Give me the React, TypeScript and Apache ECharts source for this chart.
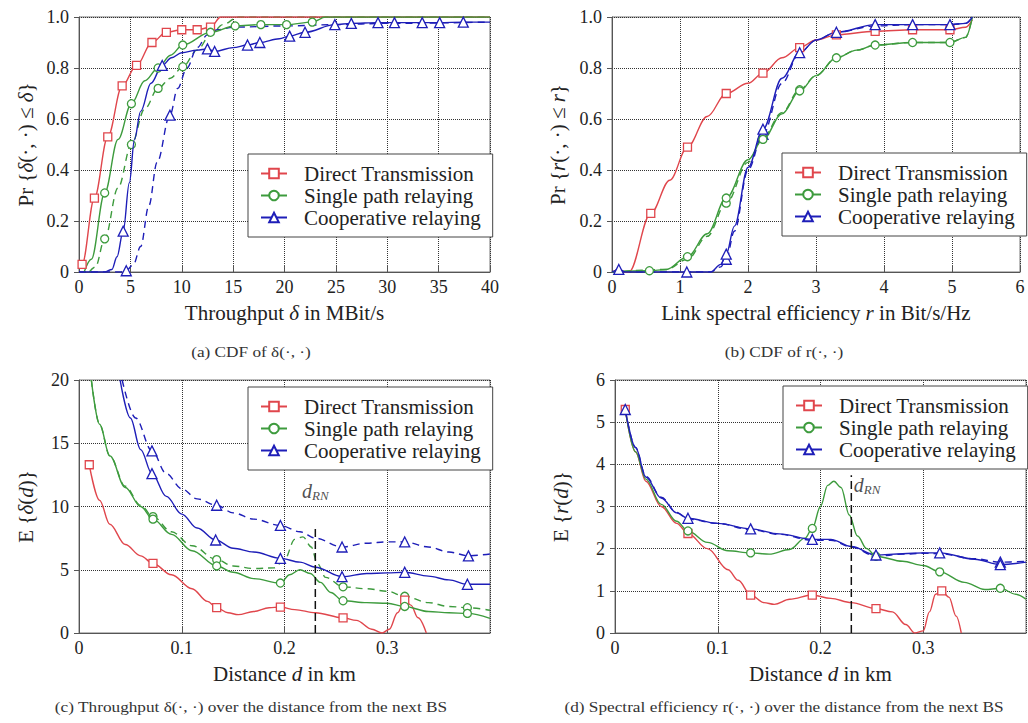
import React, { useEffect, useRef } from "react";
import * as echarts from "echarts";

const FONT = "Liberation Serif, serif";
const RED = "#e0464c";
const GREEN = "#3d9b3d";
const BLUE = "#1e1eb8";

const legendNames = ["Direct Transmission", "Single path relaying", "Cooperative relaying"];

// (a) CDF of throughput
const aRedSolid = [[0, 0.02], [0.3, 0.03], [1.5, 0.29], [2.8, 0.53], [4.2, 0.73], [5.6, 0.81], [7.1, 0.9], [8.5, 0.94], [10, 0.95], [11.5, 0.95], [12.8, 0.96], [13.8, 1.0], [40, 1.0]];
const aRedMarks = [0.3, 1.5, 2.8, 4.2, 5.6, 7.1, 8.5, 10, 11.5, 12.8];
const aGreenSolid = [[0.5, 0], [1.2, 0.05], [2.5, 0.31], [3.8, 0.52], [5.1, 0.66], [6.4, 0.75], [7.7, 0.8], [8.9, 0.85], [10.1, 0.89], [12.8, 0.94], [15.2, 0.965], [17.7, 0.97], [20.2, 0.97], [22.7, 0.98], [24, 1.0], [40, 1.0]];
const aGreenSolidMarks = [2.5, 5.1, 7.7, 10.1, 12.8, 15.2, 17.7, 20.2, 22.7];
const aGreenDashed = [[1, 0], [1.6, 0.02], [2.5, 0.13], [3.8, 0.33], [5.1, 0.5], [6.4, 0.64], [7.7, 0.72], [8.9, 0.76], [10.1, 0.805], [11.5, 0.87], [12.8, 0.93], [14, 0.97], [15.5, 1.0], [40, 1.0]];
const aGreenDashedMarks = [2.5, 5.1, 7.7, 10.1];
const aBlueSolid = [[0, 0], [2.5, 0], [3.2, 0.01], [3.7, 0.06], [4.3, 0.16], [4.9, 0.35], [5.4, 0.52], [6, 0.63], [7, 0.74], [8.1, 0.81], [9, 0.84], [10, 0.86], [11.5, 0.87], [12.5, 0.875], [13.2, 0.865], [15, 0.88], [16.4, 0.89], [17.6, 0.9], [19.5, 0.915], [20.5, 0.925], [22, 0.94], [24.9, 0.97], [26.5, 0.975], [29.1, 0.978], [30.7, 0.978], [33.4, 0.978], [35.1, 0.978], [37.4, 0.98], [40, 0.98]];
const aBlueSolidMarks = [4.3, 8.1, 12.5, 13.2, 16.4, 17.6, 20.5, 22, 24.9, 26.5, 29.1, 30.7, 33.4, 35.1, 37.4];
const aBlueDashed = [[0, 0], [4, 0], [4.6, 0.005], [5.3, 0.03], [6, 0.1], [6.8, 0.26], [7.6, 0.43], [8.85, 0.615], [9.6, 0.72], [10.5, 0.8], [11.5, 0.88], [12.5, 0.93], [13.5, 0.95], [15, 0.96], [20, 0.965], [25, 0.97], [30, 0.975], [40, 0.98]];
const aBlueDashedMarks = [4.6, 8.85];

// (b) CDF of spectral efficiency
const bRed = [[0, 0], [0.1, 0.01], [0.2, 0], [0.25, 0], [0.57, 0.23], [0.85, 0.36], [1.11, 0.49], [1.4, 0.61], [1.68, 0.7], [2.0, 0.74], [2.22, 0.78], [2.5, 0.84], [2.76, 0.88], [3.0, 0.91], [3.3, 0.93], [3.87, 0.944], [4.42, 0.95], [4.97, 0.95], [5.2, 0.96], [5.3, 0.99]];
const bRedMarks = [0.57, 1.11, 1.68, 2.22, 2.76, 3.3, 3.87, 4.42, 4.97];
const bGreenSolid = [[0, 0], [0.55, 0.005], [0.8, 0.01], [1.11, 0.06], [1.4, 0.15], [1.68, 0.29], [2.0, 0.44], [2.22, 0.52], [2.5, 0.62], [2.76, 0.71], [3.0, 0.77], [3.3, 0.84], [3.6, 0.87], [3.87, 0.89], [4.42, 0.9], [4.97, 0.9], [5.2, 0.92], [5.3, 1.0]];
const bGreenSolidMarks = [0.55, 1.11, 1.68, 2.22, 2.76, 3.3, 3.87, 4.42, 4.97];
const bGreenDashed = [[0, 0], [0.8, 0.01], [1.11, 0.05], [1.4, 0.14], [1.68, 0.27], [2.0, 0.43], [2.22, 0.53], [2.5, 0.625], [2.76, 0.715], [3.0, 0.77], [3.3, 0.84], [3.6, 0.87], [3.87, 0.89], [4.42, 0.9], [4.97, 0.9], [5.2, 0.92], [5.3, 1.0]];
const bGreenDashedMarks = [1.68, 2.76];
const bBlueSolid = [[0, 0], [0.1, 0.01], [0.2, 0], [1.1, 0], [1.45, 0], [1.6, 0.03], [1.68, 0.07], [1.8, 0.18], [2.0, 0.41], [2.22, 0.56], [2.5, 0.76], [2.76, 0.86], [3.0, 0.91], [3.3, 0.94], [3.87, 0.97], [4.42, 0.97], [4.97, 0.97], [5.2, 0.975], [5.3, 1.0]];
const bBlueSolidMarks = [0.1, 1.1, 1.68, 2.22, 2.76, 3.3, 3.87, 4.42, 4.97];
const bBlueDashed = [[0, 0], [1.45, 0], [1.6, 0.02], [1.68, 0.05], [1.8, 0.16], [2.0, 0.4], [2.22, 0.54], [2.5, 0.74], [2.76, 0.86], [3.0, 0.91], [3.3, 0.94], [3.87, 0.965], [4.42, 0.97], [4.97, 0.97], [5.2, 0.975], [5.3, 1.0]];
const bBlueDashedMarks = [1.68, 2.22];

// (c) throughput over distance
const cRed = [[0.01, 13.3], [0.02, 10.5], [0.03, 8.6], [0.045, 7.0], [0.06, 6.1], [0.072, 5.5], [0.09, 4.6], [0.11, 3.5], [0.125, 2.5], [0.134, 2.0], [0.145, 1.6], [0.155, 1.45], [0.17, 1.7], [0.185, 2.0], [0.196, 2.05], [0.21, 1.85], [0.23, 1.6], [0.257, 1.2], [0.27, 1.0], [0.285, 0.3], [0.295, 0.0], [0.302, 0.3], [0.31, 1.6], [0.317, 2.6], [0.323, 2.2], [0.33, 1.2], [0.338, 0]];
const cRedMarks = [0.01, 0.072, 0.134, 0.196, 0.257, 0.317];
const cGreenSolid = [[0.012, 20], [0.02, 16.5], [0.03, 14], [0.045, 11.5], [0.06, 10], [0.072, 9.0], [0.09, 7.8], [0.11, 6.5], [0.134, 5.3], [0.15, 4.8], [0.17, 4.3], [0.196, 3.95], [0.205, 4.6], [0.215, 5.0], [0.225, 4.7], [0.235, 4.0], [0.245, 3.2], [0.257, 2.55], [0.28, 2.4], [0.3, 2.35], [0.317, 2.1], [0.34, 1.7], [0.36, 1.6], [0.378, 1.55], [0.4, 1.15]];
const cGreenSolidMarks = [0.072, 0.134, 0.196, 0.257, 0.317, 0.378];
const cGreenDashed = [[0.012, 20], [0.02, 16.5], [0.03, 14], [0.045, 11.6], [0.06, 10.1], [0.072, 9.2], [0.09, 8.0], [0.11, 6.9], [0.134, 5.8], [0.15, 5.3], [0.17, 5.1], [0.19, 5.15], [0.2, 5.8], [0.21, 7.4], [0.218, 7.6], [0.226, 6.8], [0.232, 5.5], [0.24, 4.4], [0.257, 3.65], [0.28, 3.5], [0.3, 3.3], [0.317, 2.9], [0.34, 2.4], [0.36, 2.1], [0.378, 2.0], [0.4, 1.8]];
const cGreenDashedMarks = [0.072, 0.134, 0.257, 0.317, 0.378];
const cBlueSolid = [[0.04, 20], [0.05, 17], [0.06, 14.5], [0.071, 12.6], [0.085, 10.8], [0.1, 9.4], [0.115, 8.3], [0.133, 7.35], [0.15, 6.7], [0.17, 6.4], [0.196, 5.9], [0.215, 5.6], [0.23, 5.2], [0.256, 4.45], [0.28, 4.7], [0.3, 4.75], [0.317, 4.8], [0.34, 4.5], [0.36, 4.2], [0.378, 3.85], [0.4, 3.85]];
const cBlueSolidMarks = [0.071, 0.133, 0.196, 0.256, 0.317, 0.378];
const cBlueDashed = [[0.042, 20], [0.055, 17], [0.071, 14.4], [0.085, 12.6], [0.1, 11.4], [0.115, 10.6], [0.134, 10.1], [0.15, 9.5], [0.17, 9.0], [0.196, 8.5], [0.215, 8.0], [0.23, 7.5], [0.256, 6.8], [0.28, 7.1], [0.3, 7.2], [0.317, 7.2], [0.34, 6.8], [0.36, 6.4], [0.379, 6.1], [0.4, 6.25]];
const cBlueDashedMarks = [0.071, 0.134, 0.196, 0.256, 0.317, 0.379];

// (d) spectral efficiency over distance
const dRed = [[0.01, 5.3], [0.02, 4.3], [0.03, 3.6], [0.045, 3.0], [0.06, 2.6], [0.071, 2.36], [0.09, 2.0], [0.11, 1.5], [0.12, 1.25], [0.132, 0.9], [0.145, 0.72], [0.155, 0.68], [0.17, 0.8], [0.192, 0.9], [0.21, 0.82], [0.23, 0.72], [0.254, 0.58], [0.27, 0.5], [0.283, 0.2], [0.292, 0.0], [0.3, 0.05], [0.306, 0.5], [0.312, 0.92], [0.318, 1.0], [0.325, 0.85], [0.332, 0.4], [0.337, 0]];
const dRedMarks = [0.01, 0.071, 0.132, 0.192, 0.254, 0.318];
const dGreen = [[0.01, 5.3], [0.02, 4.3], [0.03, 3.65], [0.045, 3.05], [0.06, 2.65], [0.071, 2.42], [0.09, 2.15], [0.11, 1.95], [0.132, 1.9], [0.15, 1.87], [0.17, 1.98], [0.185, 2.25], [0.192, 2.48], [0.2, 3.0], [0.207, 3.5], [0.213, 3.6], [0.22, 3.45], [0.228, 2.8], [0.236, 2.3], [0.245, 2.0], [0.254, 1.82], [0.28, 1.7], [0.3, 1.6], [0.316, 1.45], [0.34, 1.2], [0.36, 1.03], [0.375, 1.06], [0.39, 0.92], [0.4, 0.8]];
const dGreenMarks = [0.071, 0.132, 0.192, 0.254, 0.316, 0.375];
const dBlueSolid = [[0.01, 5.3], [0.02, 4.4], [0.03, 3.7], [0.045, 3.2], [0.06, 2.85], [0.071, 2.72], [0.1, 2.6], [0.132, 2.47], [0.16, 2.35], [0.192, 2.22], [0.21, 2.22], [0.23, 2.05], [0.254, 1.85], [0.28, 1.88], [0.3, 1.9], [0.316, 1.9], [0.35, 1.75], [0.375, 1.62], [0.4, 1.68]];
const dBlueSolidMarks = [0.01, 0.071, 0.132, 0.192, 0.254, 0.316, 0.375];
const dBlueDashed = [[0.01, 5.3], [0.02, 4.4], [0.03, 3.72], [0.045, 3.22], [0.06, 2.86], [0.071, 2.7], [0.1, 2.6], [0.132, 2.45], [0.16, 2.34], [0.192, 2.2], [0.21, 2.2], [0.23, 2.04], [0.254, 1.82], [0.28, 1.87], [0.3, 1.89], [0.316, 1.88], [0.35, 1.76], [0.375, 1.68], [0.4, 1.7]];
const dBlueDashedMarks = [0.375];

// d_RN marker
const dRN = 0.23;
const cRNTop = 8.4;
const dRNTop = 3.74;
const cRNLabel = [[dRN, 11.2]];
const dRNLabel = [[dRN, 3.5]];

const captions = [
  "(a) CDF of δ(·, ·)",
  "(b) CDF of r(·, ·)",
  "(c) Throughput δ(·, ·) over the distance from the next BS",
  "(d) Spectral efficiency r(·, ·) over the distance from the next BS",
];

function lineSeries(name, color, symbol, pts, marks, axis, dashed) {
  return {
    type: "line",
    name,
    xAxisIndex: axis,
    yAxisIndex: axis,
    data: pts.map((p) => ({ value: p, symbol: marks.indexOf(p[0]) >= 0 ? symbol : "none" })),
    smooth: 0.35,
    smoothMonotone: "x",
    symbol,
    symbolSize: symbol === "triangle" ? 10 : 8,
    showSymbol: true,
    showAllSymbol: true,
    lineStyle: { color, width: 1.4, type: dashed ? [7, 5] : "solid" },
    itemStyle: { color: "#fff", borderColor: color, borderWidth: 1.3 },
    emphasis: { disabled: true },
    z: dashed ? 3 : 4,
  };
}

const italic = { fontStyle: "italic", fontFamily: FONT, fontSize: 21, color: "#222" };

function App() {
  const ref = useRef(null);
  useEffect(() => {
    const chart = echarts.init(ref.current, null, { renderer: "svg" });
    const grids = [
      { left: 79, top: 17, width: 411, height: 255 },
      { left: 612, top: 17, width: 408, height: 255 },
      { left: 79, top: 380, width: 411, height: 253 },
      { left: 615, top: 380, width: 411, height: 253 },
    ].map((g) => ({ ...g, show: true, borderColor: "#777", borderWidth: 1, backgroundColor: "transparent" }));

    const common = {
      axisLine: { show: true, lineStyle: { color: "#555", width: 1 } },
      splitLine: { show: true, lineStyle: { color: "#333", type: "dotted", width: 1 } },
      nameTextStyle: { fontFamily: FONT, fontSize: 21, color: "#222", rich: { i: italic } },
      axisLabel: { fontFamily: FONT, fontSize: 18, color: "#222" },
    };
    const xBase = (i, min, max, interval, name, extra = {}) => ({
      ...common,
      type: "value",
      gridIndex: i,
      min,
      max,
      interval,
      name,
      nameLocation: "middle",
      nameGap: 30,
      axisTick: { show: true, inside: true, length: 7, lineStyle: { color: "#555" } },
      axisLabel: { ...common.axisLabel, margin: 6, ...extra },
    });
    const yBase = (i, min, max, interval, name, gap, fmt) => ({
      ...common,
      type: "value",
      gridIndex: i,
      min,
      max,
      interval,
      name,
      nameLocation: "middle",
      nameGap: gap,
      nameRotate: 90,
      axisTick: { show: true, inside: false, length: 5, lineStyle: { color: "#555" } },
      axisLabel: { ...common.axisLabel, margin: 10, formatter: fmt },
    });
    const f1 = (v) => (v === 0 ? "0" : v.toFixed(1));
    const fInt = (v) => String(v);

    const legends = [
      { left: 248, top: 154 },
      { left: 782, top: 153 },
      { left: 248, top: 387 },
      { left: 783, top: 386 },
    ].map((p) => ({
      ...p,
      orient: "vertical",
      data: legendNames,
      selectedMode: false,
      borderColor: "#444",
      borderWidth: 1,
      borderRadius: 0,
      backgroundColor: "#fff",
      padding: [9, 12, 9, 12],
      itemWidth: 26,
      itemHeight: 12,
      itemGap: 1,
      textStyle: { fontFamily: FONT, fontSize: 21, lineHeight: 21, color: "#222", padding: [0, 0, 0, 12] },
    }));

    const vline = (axis, top) => ({
      type: "line",
      xAxisIndex: axis,
      yAxisIndex: axis,
      data: [[dRN, 0], [dRN, top]],
      symbol: "none",
      lineStyle: { color: "#111", width: 1.5, type: [8, 4] },
      z: 5,
      emphasis: { disabled: true },
    });
    const rnLabel = (axis, pts, pos) => ({
      type: "scatter",
      xAxisIndex: axis,
      yAxisIndex: axis,
      data: pts,
      symbolSize: 1,
      itemStyle: { color: "transparent" },
      label: {
        show: true,
        position: pos,
        distance: 2,
        formatter: "{d|d}{s|RN}",
        rich: {
          d: { fontFamily: FONT, fontStyle: "italic", fontSize: 20, color: "#222", lineHeight: 22 },
          s: { fontFamily: FONT, fontStyle: "italic", fontSize: 13, color: "#222", lineHeight: 22, verticalAlign: "bottom", padding: [11, 0, 0, 0] },
        },
      },
      emphasis: { disabled: true },
      silent: true,
    });

    const series = [
      lineSeries(legendNames[0], RED, "rect", aRedSolid, aRedMarks, 0, false),
      lineSeries(legendNames[1], GREEN, "circle", aGreenSolid, aGreenSolidMarks, 0, false),
      lineSeries(legendNames[2], BLUE, "triangle", aBlueSolid, aBlueSolidMarks, 0, false),
      lineSeries(legendNames[1], GREEN, "circle", aGreenDashed, aGreenDashedMarks, 0, true),
      lineSeries(legendNames[2], BLUE, "triangle", aBlueDashed, aBlueDashedMarks, 0, true),

      lineSeries(legendNames[0], RED, "rect", bRed, bRedMarks, 1, false),
      lineSeries(legendNames[1], GREEN, "circle", bGreenSolid, bGreenSolidMarks, 1, false),
      lineSeries(legendNames[1], GREEN, "circle", bGreenDashed, bGreenDashedMarks, 1, true),
      lineSeries(legendNames[2], BLUE, "triangle", bBlueSolid, bBlueSolidMarks, 1, false),
      lineSeries(legendNames[2], BLUE, "triangle", bBlueDashed, bBlueDashedMarks, 1, true),

      lineSeries(legendNames[0], RED, "rect", cRed, cRedMarks, 2, false),
      lineSeries(legendNames[1], GREEN, "circle", cGreenSolid, cGreenSolidMarks, 2, false),
      lineSeries(legendNames[1], GREEN, "circle", cGreenDashed, cGreenDashedMarks, 2, true),
      lineSeries(legendNames[2], BLUE, "triangle", cBlueSolid, cBlueSolidMarks, 2, false),
      lineSeries(legendNames[2], BLUE, "triangle", cBlueDashed, cBlueDashedMarks, 2, true),
      vline(2, cRNTop),
      rnLabel(2, cRNLabel, "inside"),

      lineSeries(legendNames[0], RED, "rect", dRed, dRedMarks, 3, false),
      lineSeries(legendNames[1], GREEN, "circle", dGreen, dGreenMarks, 3, false),
      lineSeries(legendNames[2], BLUE, "triangle", dBlueSolid, dBlueSolidMarks, 3, false),
      lineSeries(legendNames[2], BLUE, "triangle", dBlueDashed, dBlueDashedMarks, 3, true),
      vline(3, dRNTop),
      rnLabel(3, dRNLabel, "right"),
    ];

    const capPos = [[251, 352], [784, 352], [251, 707], [784, 707]];
    chart.setOption({
      animation: false,
      backgroundColor: "#fff",
      grid: grids,
      xAxis: [
        xBase(0, 0, 40, 5, "Throughput {i|δ} in MBit/s"),
        xBase(1, 0, 6, 1, "Link spectral efficiency {i|r} in Bit/s/Hz"),
        xBase(2, 0, 0.4, 0.1, "Distance {i|d} in km", { showMaxLabel: false, formatter: f1 }),
        xBase(3, 0, 0.4, 0.1, "Distance {i|d} in km", { showMaxLabel: false, formatter: f1 }),
      ],
      yAxis: [
        yBase(0, 0, 1, 0.2, "Pr {{i|δ}(·, ·) ≤ {i|δ}}", 43, f1),
        yBase(1, 0, 1, 0.2, "Pr {{i|r}(·, ·) ≤ {i|r}}", 44, f1),
        yBase(2, 0, 20, 5, "E {{i|δ}({i|d})}", 43, fInt),
        yBase(3, 0, 6, 1, "E {{i|r}({i|d})}", 44, fInt),
      ],
      legend: legends,
      series,
      graphic: captions.map((t, i) => ({
        type: "text",
        x: capPos[i][0],
        y: capPos[i][1],
        scaleX: 1.15,
        style: { text: t, fontFamily: FONT, fontSize: 15, fill: "#333", textAlign: "center", textVerticalAlign: "middle" },
      })),
    });
    return () => chart.dispose();
  }, []);
  return <div ref={ref} style={{ position: "fixed", left: 0, top: 0, width: 1028, height: 723 }} />;
}

export default App;
